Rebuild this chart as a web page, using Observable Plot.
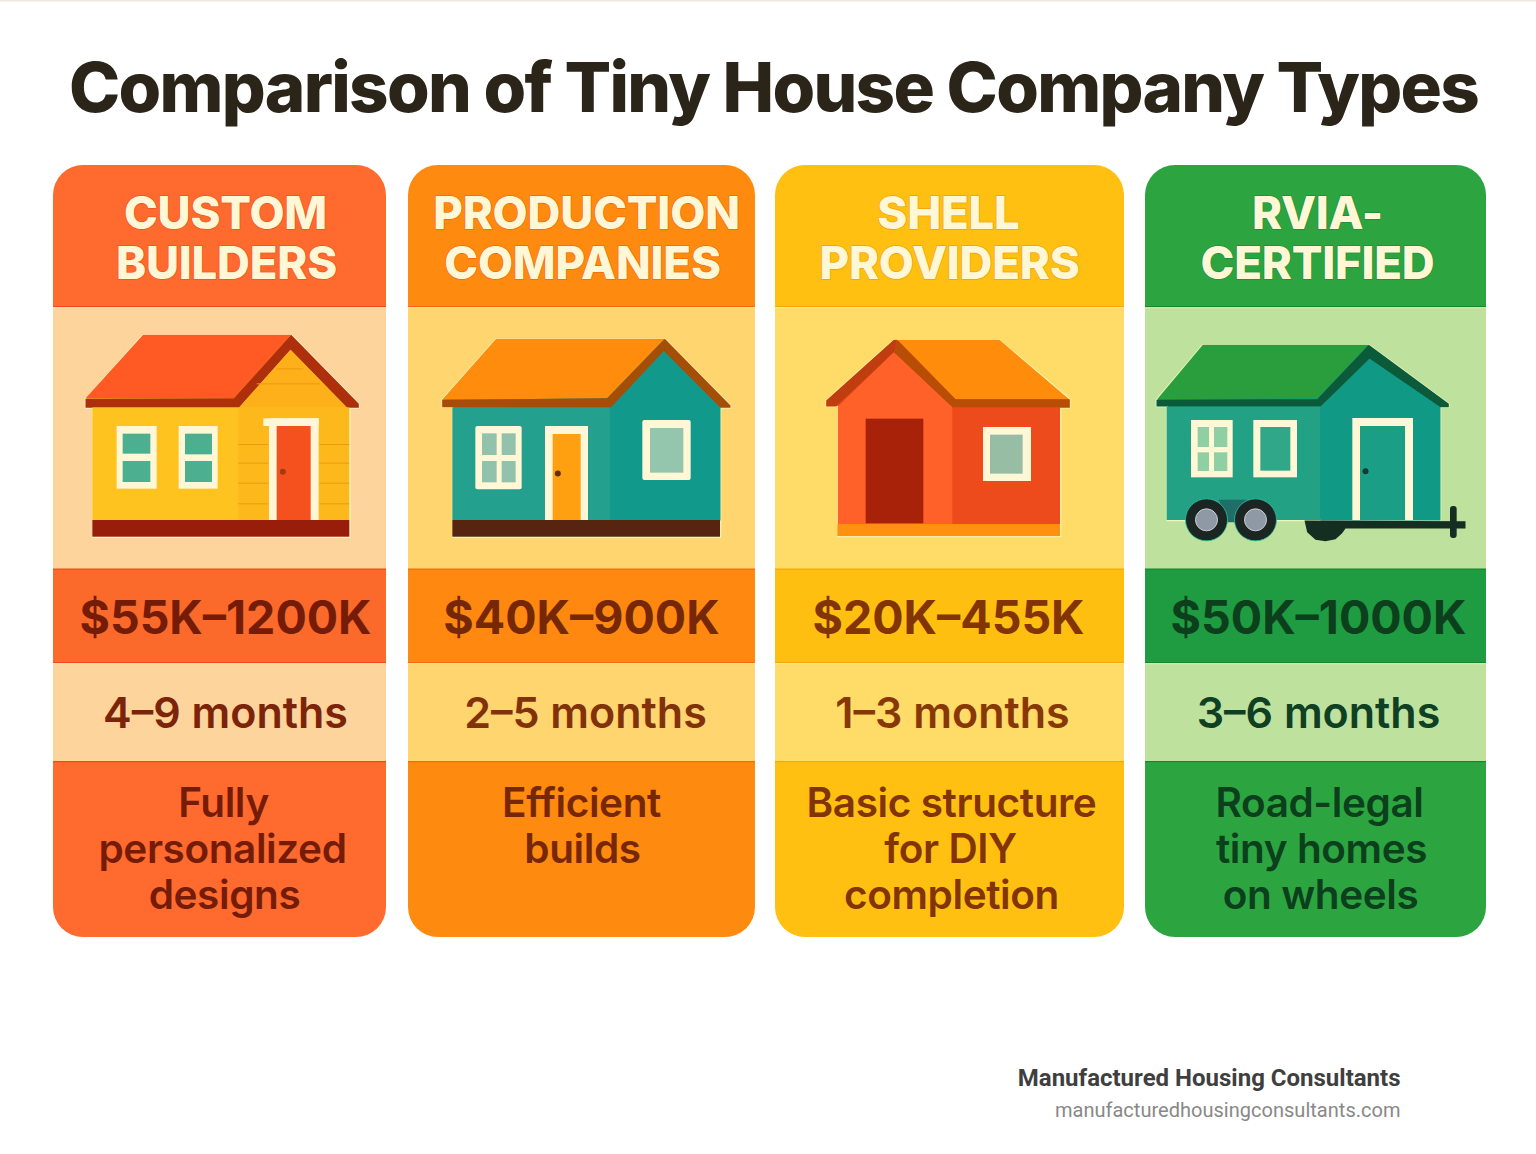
<!DOCTYPE html>
<html><head><meta charset="utf-8">
<script src="https://cdn.jsdelivr.net/npm/d3@7"></script>
<script src="https://cdn.jsdelivr.net/npm/@observablehq/plot@0.6"></script>
<style>html,body{margin:0;background:#fff}svg{display:block}</style>
</head><body><div id="chart"></div>
<script>
// ---- chart content ----
const title = "Comparison of Tiny House Company Types";
const companyTypes = [["CUSTOM","BUILDERS"],["PRODUCTION","COMPANIES"],["SHELL","PROVIDERS"],["RVIA-","CERTIFIED"]];
const priceLowK = [55,40,20,50];
const priceHighK = [1200,900,455,1000];
const monthsLow = [4,2,1,3];
const monthsHigh = [9,5,3,6];
const descriptions = [["Fully","personalized","designs"],["Efficient","builds"],["Basic structure","for DIY","completion"],["Road-legal","tiny homes","on wheels"]];
const credit = ["Manufactured Housing Consultants","manufacturedhousingconsultants.com"];

// ---- layout and style ----
const W = 1536, H = 1154;
const cardX = [[53,386],[408,755],[775,1124],[1145,1486]];
const main = ["#FF6A2E","#FF8A10","#FFC012","#2CA541"];
const pale = ["#FDD49B","#FFD570","#FFDB68","#BEE29D"];
const band = ["#FB6A2B","#FF8810","#FFBF10","#1F9B42"];
const edge = ["#F4481A","#F76A08","#F7A808","#17882F"];
const ink = ["#741C08","#762806","#823404","#0C3F1C"];
const inkMonths = ["#7C240A","#82320A","#873806","#0F4023"];
const textEdge = ["#F0531E","#F06A10","#F0A010","#1F8F3C"];
const headX = [[225,226],[586,582],[948,949],[1317,1317]];
const priceX = [225,581,948,1318];
const monthX = [225,585,952,1318];
const descX = [[223,222,224],[581,582],[951,950,951],[1319,1321,1320]];
const cream = "#FFF7D6";

const marks = [];
const box = (fill,x1,y1,x2,y2,o={}) => marks.push(Plot.rect([{x1,y1,x2,y2}],{x1:"x1",y1:"y1",x2:"x2",y2:"y2",fill,...o}));
const label = (text,x,y,size,weight,fill,family,spacing,o={}) => marks.push(Plot.text([{text,x,y}],{x:"x",y:"y",text:"text",fontSize:size,fontWeight:weight,fill,fontFamily:family,lineAnchor:"middle",
  render(index,scales,values,dims,ctx,next){const g=next(index,scales,values,dims,ctx); if(spacing) g.style.letterSpacing=spacing+"px"; return g;},...o}));

// page hairline and title
box("#F0E9DD",0,0,W,1.5);
label(title,773,89,69,800,"#2B2419","Inter",-1.7);

// cards
companyTypes.forEach((lines,i)=>{
  const [a,b] = cardX[i];
  box(main[i],a,165,b,937,{rx:30});
  box(pale[i],a,307,b,569);
  box(band[i],a,569,b,663);
  box(pale[i],a,663,b,762);
  for(const y of [306,568.5,662,761]){
    box(edge[i],a,y,b,y+1.2);
  }
  for(const y of [307.2,663.2]) box("#FFF3C8",a,y,b,y+1,{fillOpacity:.7});
  lines.forEach((t,j)=>label(t,headX[i][j],214+50*j,45.5,800,cream,"Inter",-0.2,{stroke:textEdge[i],strokeWidth:1.5}));
  label(`$${priceLowK[i]}K–${priceHighK[i]}K`,priceX[i],618.5,46.5,700,ink[i],"Inter",0);
  label(`${monthsLow[i]}–${monthsHigh[i]} months`,monthX[i],714,43,600,inkMonths[i],"Inter",0);
  descriptions[i].forEach((t,j)=>label(t,descX[i][j],804+45.7*j,40.5,600,ink[i],"Inter",-0.4));
});

// house illustrations: shapes in local units (3 units per pixel) from a house origin
function house(ox,oy,draw){
  const X=v=>ox+v/3, Y=v=>oy+v/3;
  const r=(fill,x1,y1,x2,y2,o)=>box(fill,X(x1),Y(y1),X(x2),Y(y2),o);
  const p=(fill,pts,o={})=>marks.push(Plot.line(pts.map(([x,y])=>({x:X(x),y:Y(y)})),{x:"x",y:"y",fill,stroke:"none",curve:"linear-closed",...o}));
  const d=(fill,x,y,rad,o={})=>marks.push(Plot.dot([{x:X(x),y:Y(y)}],{x:"x",y:"y",r:rad,fill,stroke:"none",...o}));
  draw(r,p,d);
}
const halo = c => ({stroke:c,strokeWidth:1.6,strokeLinejoin:"round"});

house(50,300,(r,p,d)=>{
  p("#FFC31F",[[278,103],[722,103],[925,310],[925,322],[898,322],[898,710],[127,710],[127,322],[105,322],[105,295]],halo("#FFF3C8"));
  p("#FF5A24",[[278,103],[722,103],[550,293],[105,293]]);
  p("#AE2F0C",[[722,103],[925,310],[925,322],[890,322],[720,148],[565,322],[105,322],[105,295],[550,293]]);
  p("#FDB01A",[[720,148],[890,322],[565,322]]);
  r("#FFC31F",127,322,565,660);
  r("#FDB91C",565,322,898,660);
  for(const [x1,x2,y] of [[680,760,205],[620,810,250]]) r("#EE9A10",x1,y,x2,y+3);
  for(const y of [432,488,548,610]){ r("#EE9A10",565,y,655,y+3); r("#EE9A10",808,y,898,y+3); }
  r(cream,200,378,320,566); r("#4CAF8F",218,401,301,461); r("#4CAF8F",218,483,301,546);
  r(cream,386,378,503,566); r("#4CAF8F",405,401,486,463); r("#4CAF8F",405,483,486,546);
  r(cream,640,355,806,378); r(cream,657,355,806,660); r("#F4511E",680,378,782,660); d("#A43A10",697,514,3);
  r("#981E0B",127,660,898,710);
});

house(405,300,(r,p,d)=>{
  p("#109A8C",[[272,115],[778,115],[975,315],[975,322],[945,322],[945,710],[142,710],[142,320],[110,320],[110,298]],halo("#FFF0B0"));
  p("#FF8C0C",[[272,115],[778,115],[605,293],[110,298]]);
  p("#A54E08",[[778,115],[975,315],[975,322],[942,322],[775,152],[618,322],[110,320],[110,298],[605,293]]);
  r("#24A08F",142,322,615,660);
  p("#119A8C",[[775,152],[945,322],[945,660],[615,660],[615,322]]);
  r(cream,211,378,350,568,{rx:2});
  for(const [a,b] of [[231,275],[290,332]]) for(const [c,e] of [[400,465],[483,547]]) r("#93C2AC",a,c,b,e);
  r(cream,420,378,549,660); r("#FFA010",443,402,527,660); d("#6B2A0A",457,519,3);
  r(cream,712,360,857,540,{rx:2}); r("#94C5AD",735,384,835,518);
  r("#57240F",142,660,945,710);
});

house(775,300,(r,p,d)=>{
  p("#EE4B1C",[[355,118],[672,118],[883,296],[883,322],[855,322],[855,708],[187,708],[187,318],[152,318],[152,300]],halo("#FFF0A8"));
  p("#FF8C0B",[[365,118],[672,118],[880,296],[540,296]]);
  p("#B84E05",[[365,118],[540,296],[883,296],[883,322],[532,322],[355,155]]);
  p("#C03D10",[[355,118],[365,118],[355,155],[182,318],[152,318],[152,300]]);
  p("#FF6128",[[355,155],[532,322],[532,672],[187,672],[187,318]]);
  r("#EE4B1C",532,322,855,672);
  r("#A8220A",272,356,445,670);
  r("#FF9010",187,672,855,708);
  r(cream,624,381,768,543); r("#97BDA5",645,404,743,521);
});

house(1140,300,(r,p,d)=>{
  p("#109A85",[[187,133],[685,133],[925,310],[925,320],[900,320],[900,660],[80,660],[80,318],[48,318],[48,298]],halo("#EEF5C0"));
  p("#2A9E3D",[[187,133],[685,133],[530,293],[50,296]]);
  p("#0B5A3A",[[685,133],[925,310],[925,320],[898,320],[687,175],[548,318],[48,318],[48,298],[530,296]]);
  r("#22A184",80,320,540,660);
  p("#109A85",[[687,175],[900,320],[900,660],[540,660],[540,318]]);
  r(cream,153,360,278,532);
  for(const [a,b] of [[173,207],[222,262]]) for(const [c,e] of [[381,441],[457,513]]) r("#90CFA3",a,c,b,e);
  r(cream,340,360,471,532); r("#30A888",361,381,451,512);
  r(cream,637,354,819,660); r("#1A9E86",660,378,795,660); d("#123C30",675,512,3);
  p("#1F6E68",[[235,598],[320,598],[285,665],[262,665]]);
  for(const x of [198,345]){ d("#1B2522",x,658,21,{stroke:"#2FC2A0",strokeWidth:0.8}); d("#8F98A5",x,658,11,{stroke:"#C9CDD2",strokeWidth:1}); }
  p("#152E22",[[492,660],[975,662],[975,684],[615,684],[605,698],[585,716],[555,722],[525,718],[500,695]]);
  r("#152E22",930,618,950,714,{rx:3});
});

// credit
label(credit[0],1400,1078,24,700,"#3F3F3F","Roboto",0,{textAnchor:"end"});
label(credit[1],1400,1110,20,400,"#888888","Roboto",0.02,{textAnchor:"end"});

const chart = Plot.plot({
  width:W,height:H,margin:0,
  x:{domain:[0,W],range:[0,W],axis:null},
  y:{domain:[0,H],range:[0,H],axis:null},
  style:{background:"#fff"},
  marks
});
document.getElementById("chart").append(chart);
</script></body></html>
